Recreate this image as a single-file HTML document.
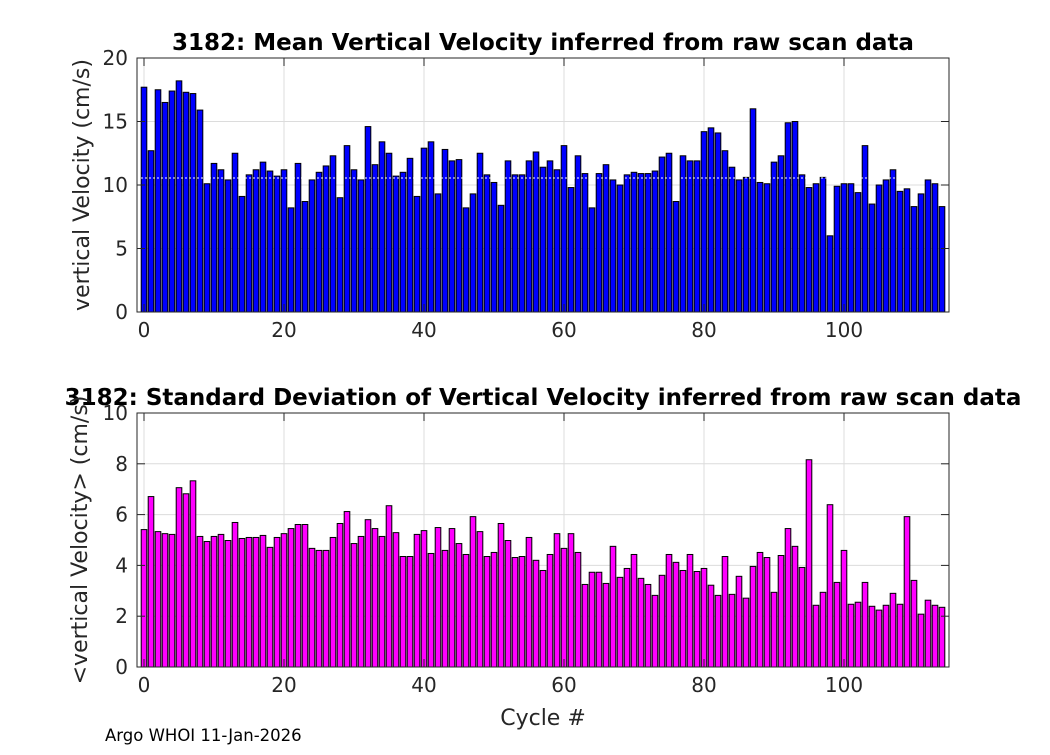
<!DOCTYPE html>
<html><head><meta charset="utf-8"><style>
body{margin:0;background:#fff;}
svg text{font-family:"DejaVu Sans","Liberation Sans",sans-serif;}
</style></head><body>
<svg id="fig" width="1050" height="750" xmlns="http://www.w3.org/2000/svg">
<rect width="1050" height="750" fill="#fff"/>
<g id="top"></g>
<g id="bot"></g>
<text x="105" y="741" font-size="16.5" fill="#000">Argo WHOI 11-Jan-2026</text>
</svg>
<script>
const cycles = Array.from({length:115},(_,i)=>i);
const meanValues = [17.7,12.7,17.5,16.5,17.4,18.2,17.3,17.2,15.9,10.1,11.7,11.2,10.4,12.5,9.1,10.8,11.2,11.8,11.1,10.7,11.2,8.2,11.7,8.7,10.4,11.0,11.5,12.3,9.0,13.1,11.2,10.4,14.6,11.6,13.4,12.5,10.7,11.0,12.1,9.1,12.9,13.4,9.3,12.8,11.9,12.0,8.2,9.3,12.5,10.8,10.2,8.4,11.9,10.8,10.8,11.9,12.6,11.4,11.9,11.2,13.1,9.8,12.3,10.9,8.2,10.9,11.6,10.4,10.0,10.8,11.0,10.9,10.9,11.1,12.2,12.5,8.7,12.3,11.9,11.9,14.2,14.5,14.1,12.7,11.4,10.4,10.6,16.0,10.2,10.1,11.8,12.3,14.9,15.0,10.8,9.8,10.1,10.6,6.0,9.9,10.1,10.1,9.4,13.1,8.5,10.0,10.4,11.2,9.5,9.7,8.3,9.3,10.4,10.1,8.3];
const stdValues = [5.41,6.71,5.33,5.25,5.22,7.06,6.82,7.33,5.14,4.94,5.14,5.22,4.98,5.69,5.06,5.1,5.1,5.18,4.71,5.1,5.25,5.45,5.61,5.61,4.67,4.59,4.59,5.1,5.65,6.12,4.86,5.14,5.8,5.45,5.14,6.35,5.29,4.35,4.35,5.22,5.37,4.47,5.49,4.59,5.45,4.86,4.43,5.92,5.33,4.35,4.51,5.65,4.98,4.31,4.35,5.1,4.2,3.8,4.43,5.25,4.67,5.25,4.51,3.25,3.73,3.73,3.29,4.75,3.53,3.88,4.43,3.49,3.25,2.82,3.61,4.43,4.12,3.8,4.43,3.76,3.88,3.22,2.82,4.35,2.86,3.57,2.71,3.96,4.51,4.31,2.94,4.39,5.45,4.75,3.92,8.16,2.43,2.94,6.39,3.33,4.59,2.47,2.55,3.33,2.39,2.24,2.43,2.9,2.47,5.92,3.41,2.08,2.63,2.43,2.35];
const xTicks = [0,20,40,60,80,100];
const topYTicks = [0,5,10,15,20];
const botYTicks = [0,2,4,6,8,10];
const meanLine = 10.55;

const NS="http://www.w3.org/2000/svg";
function mk(p,tag,a){const e=document.createElementNS(NS,tag);for(const k in a)e.setAttribute(k,a[k]);p.appendChild(e);return e;}
const L=137,R=949,xmin=-1,xmax=115;
const xs=v=>L+(v-xmin)/(xmax-xmin)*(R-L);

function chart(g,T,B,ymax,yt,vals,color,title,ylabel,xlabel,line,ylx){
  const ys=v=>B-v/ymax*(B-T);
  mk(g,'rect',{x:L,y:T,width:R-L,height:B-T,fill:'#fff'});
  const grid=mk(g,'g',{stroke:'#dcdcdc','stroke-width':1});
  
  
  xTicks.forEach(t=>mk(grid,'line',{x1:xs(t),x2:xs(t),y1:T,y2:B}));
  yt.forEach(t=>mk(grid,'line',{x1:L,x2:R,y1:ys(t),y2:ys(t)}));
  const bw=0.8*(R-L)/(xmax-xmin);
  cycles.forEach((c,i)=>{
    const r=mk(g,'rect',{x:xs(c)-bw/2,y:ys(vals[i]),width:bw,height:B-ys(vals[i]),fill:color,stroke:'#000','stroke-width':1});
    
    
  });
  if(line!==undefined){
    const l=mk(g,'line',{x1:L,x2:R,y1:ys(line),y2:ys(line),stroke:'#fff','stroke-width':1,'stroke-dasharray':'2,2'});
    
    
  }
  mk(g,'rect',{x:L,y:T,width:R-L,height:B-T,fill:'none',stroke:'#262626','stroke-width':1});
  const tk=mk(g,'g',{stroke:'#262626','stroke-width':1});
  xTicks.forEach(t=>{mk(tk,'line',{x1:xs(t),x2:xs(t),y1:B,y2:B-8});mk(tk,'line',{x1:xs(t),x2:xs(t),y1:T,y2:T+8});});
  yt.forEach(t=>{mk(tk,'line',{x1:L,x2:L+8,y1:ys(t),y2:ys(t)});mk(tk,'line',{x1:R,x2:R-8,y1:ys(t),y2:ys(t)});});
  xTicks.forEach(t=>{const e=mk(g,'text',{x:xs(t),y:B+25,'font-size':20,'text-anchor':'middle',fill:'#262626'});e.textContent=t;
    
    });
  yt.forEach(t=>{const e=mk(g,'text',{x:L-9,y:ys(t)+7,'font-size':20,'text-anchor':'end',fill:'#262626'});e.textContent=t;
    
    });
  const ti=mk(g,'text',{x:543,y:T-8,'font-size':23,'font-weight':'bold','text-anchor':'middle',fill:'#000'});ti.textContent=title;
  
  
  const yl=mk(g,'text',{x:0,y:0,'font-size':22,'text-anchor':'middle',fill:'#262626',transform:`translate(${ylx},${(T+B)/2}) rotate(-90)`});yl.textContent=ylabel;
  
  
  if(xlabel){const xl=mk(g,'text',{x:543,y:B+58,'font-size':22,'text-anchor':'middle',fill:'#262626'});xl.textContent=xlabel;
    
    }
}
chart(document.getElementById('top'),58,312,20,topYTicks,meanValues,'#0000ff','3182: Mean Vertical Velocity inferred from raw scan data','vertical Velocity (cm/s)',null,meanLine,89);
chart(document.getElementById('bot'),413,667,10,botYTicks,stdValues,'#ff00ff','3182: Standard Deviation of Vertical Velocity inferred from raw scan data','<vertical Velocity> (cm/s)','Cycle #',undefined,87);
</script>
</body></html>
